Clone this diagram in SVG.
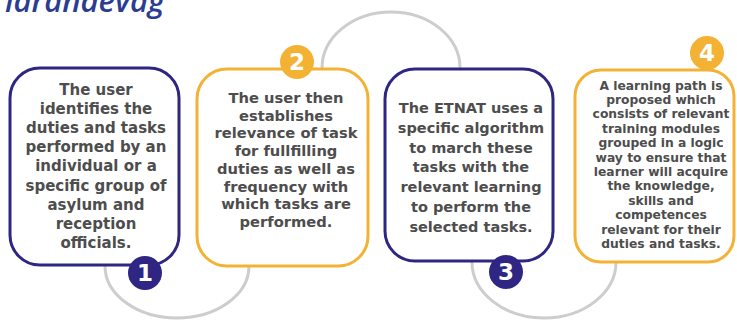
<svg xmlns="http://www.w3.org/2000/svg" width="737" height="322" viewBox="0 0 737 322">
<style>
.bg{fill:#ffffff}
.arc{fill:none;stroke:#cdcdcd;stroke-width:3;stroke-linecap:round}
.box{fill:#ffffff;stroke-width:3}
.navy{stroke:#2f2683}
.gold{stroke:#f3b234}
.dnavy{fill:#2f2683}
.dgold{fill:#f3b234}
.txt{font-family:"DejaVu Sans",sans-serif;font-weight:bold;fill:#4d4d4d;text-anchor:middle}
.num{font-family:"DejaVu Sans",sans-serif;font-weight:bold;fill:#ffffff;text-anchor:middle;font-size:23px}
.title{font-family:"Open Sans","DejaVu Sans",sans-serif;font-style:italic;font-weight:600;fill:#2b3d91;font-size:31px}
</style>
<rect class="bg" x="0" y="0" width="737" height="322"/>
<text class="title" x="5" y="12">lärandeväg</text>
<g id="connectors">
<path class="arc" d="M105,266 A72,52 0 0 0 249,266"/>
<path class="arc" d="M322,68 A69,56 0 0 1 460,68"/>
<path class="arc" d="M472,262 A72,56 0 0 0 616,262"/>
</g>
<g id="step1">
<rect class="box navy" x="10" y="68" width="169" height="197" rx="30"/>
<text class="txt" font-size="15" x="96" y="95"><tspan x="96">The user</tspan><tspan x="96" dy="19.1">identifies the</tspan><tspan x="96" dy="19.1">duties and tasks</tspan><tspan x="96" dy="19.1">performed by an</tspan><tspan x="96" dy="19.1">individual or a</tspan><tspan x="96" dy="19.1">specific group of</tspan><tspan x="96" dy="19.1">asylum and</tspan><tspan x="96" dy="19.1">reception</tspan><tspan x="96" dy="19.1">officials.</tspan></text>
<circle class="dnavy" cx="145" cy="273" r="17"/>
<text class="num" x="145" y="281">1</text>
</g>
<g id="step2">
<rect class="box gold" x="197" y="69" width="171" height="197" rx="30"/>
<text class="txt" font-size="14.7" x="286" y="103"><tspan x="286">The user then</tspan><tspan x="286" dy="17.7">establishes</tspan><tspan x="286" dy="17.7">relevance of task</tspan><tspan x="286" dy="17.7">for fullfilling</tspan><tspan x="286" dy="17.7">duties as well as</tspan><tspan x="286" dy="17.7">frequency with</tspan><tspan x="286" dy="17.7">which tasks are</tspan><tspan x="286" dy="17.7">performed.</tspan></text>
<circle class="dgold" cx="297" cy="62" r="17"/>
<text class="num" x="297" y="70">2</text>
</g>
<g id="step3">
<rect class="box navy" x="385" y="69" width="168" height="192" rx="30"/>
<text class="txt" font-size="14.5" x="471" y="113"><tspan x="471">The ETNAT uses a</tspan><tspan x="471" dy="19.8">specific algorithm</tspan><tspan x="471" dy="19.8">to march these</tspan><tspan x="471" dy="19.8">tasks with the</tspan><tspan x="471" dy="19.8">relevant learning</tspan><tspan x="471" dy="19.8">to perform the</tspan><tspan x="471" dy="19.8">selected tasks.</tspan></text>
<circle class="dnavy" cx="506" cy="272" r="17"/>
<text class="num" x="506" y="280">3</text>
</g>
<g id="step4">
<rect class="box gold" x="575" y="70" width="159" height="192" rx="26"/>
<text class="txt" font-size="12.3" x="661" y="89.5"><tspan x="661">A learning path is</tspan><tspan x="661" dy="14.4">proposed which</tspan><tspan x="661" dy="14.4">consists of relevant</tspan><tspan x="661" dy="14.4">training modules</tspan><tspan x="661" dy="14.4">grouped in a logic</tspan><tspan x="661" dy="14.4">way to ensure that</tspan><tspan x="661" dy="14.4">learner will acquire</tspan><tspan x="661" dy="14.4">the knowledge,</tspan><tspan x="661" dy="14.4">skills and</tspan><tspan x="661" dy="14.4">competences</tspan><tspan x="661" dy="14.4">relevant for their</tspan><tspan x="661" dy="14.4">duties and tasks.</tspan></text>
<circle class="dgold" cx="707" cy="53" r="17"/>
<text class="num" x="707" y="61">4</text>
</g>
</svg>
